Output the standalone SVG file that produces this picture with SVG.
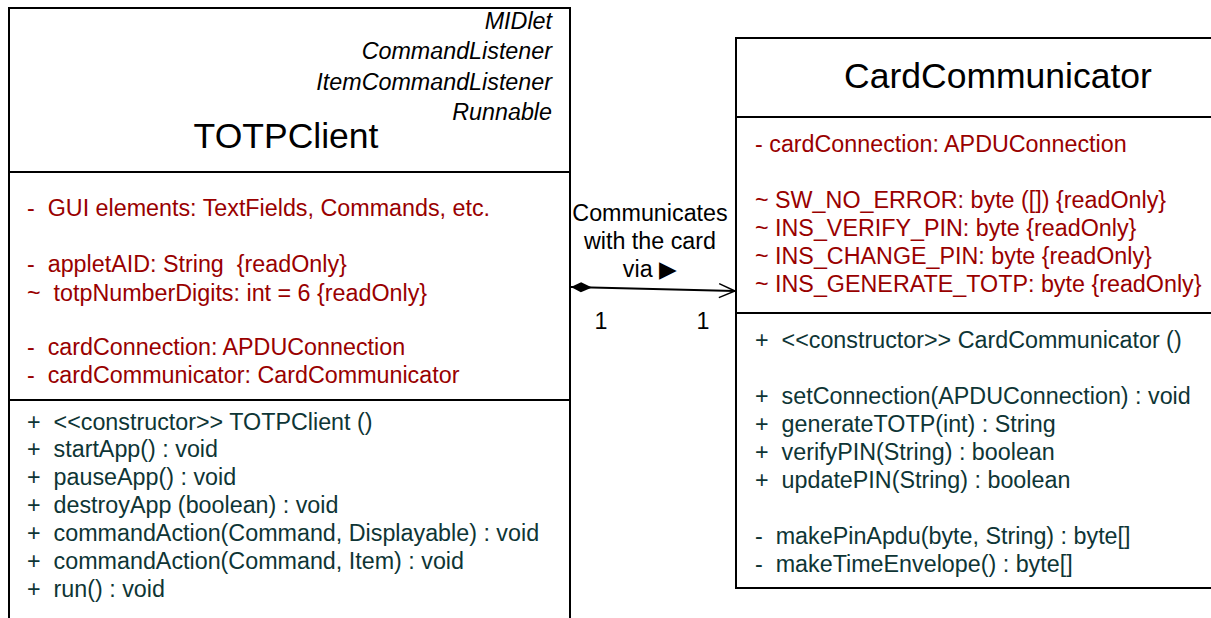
<svg xmlns="http://www.w3.org/2000/svg" width="1211" height="618" viewBox="0 0 1211 618">
<defs>
<style>
text{font-family:"Liberation Sans",Arial,sans-serif;font-size:23.3px;white-space:pre}
.box{fill:#fff;stroke:#000;stroke-width:2}
.div{stroke:#000;stroke-width:2}
.it{font-style:italic;text-anchor:end;fill:#000}
.title{font-size:35.5px;text-anchor:middle;fill:#000}
.attr{fill:#990000}
.op{fill:#0e3535}
.lbl{fill:#000;text-anchor:middle}
</style>
<marker id="open" viewBox="0 0 20 20" refX="18" refY="10" markerWidth="20" markerHeight="20" markerUnits="userSpaceOnUse" orient="auto">
<path d="M2,3 L18,10 L2,17" fill="none" stroke="#000" stroke-width="1.5"/>
</marker>
<marker id="diamond" viewBox="0 0 24 12" refX="1" refY="6" markerWidth="24" markerHeight="12" markerUnits="userSpaceOnUse" orient="auto">
<path d="M1,6 L11,1 L22,6 L11,11 Z" fill="#000"/>
</marker>
</defs>
<g id="TOTPClient">
<rect class="box" x="9" y="8" width="561" height="620"/>
<line class="div" x1="9" y1="172" x2="570" y2="172"/>
<line class="div" x1="9" y1="400" x2="570" y2="400"/>
<text class="it" x="552" y="29">MIDlet</text>
<text class="it" x="552" y="59">CommandListener</text>
<text class="it" x="552" y="90">ItemCommandListener</text>
<text class="it" x="552" y="120">Runnable</text>
<text class="title" x="286" y="148">TOTPClient</text>
<text class="attr" x="27" y="216" xml:space="preserve">-  GUI elements: TextFields, Commands, etc.</text>
<text class="attr" x="27" y="272" xml:space="preserve">-  appletAID: String  {readOnly}</text>
<text class="attr" x="27" y="301" xml:space="preserve">~  totpNumberDigits: int = 6 {readOnly}</text>
<text class="attr" x="27" y="355" xml:space="preserve">-  cardConnection: APDUConnection</text>
<text class="attr" x="27" y="383" xml:space="preserve">-  cardCommunicator: CardCommunicator</text>
<text class="op" x="27" y="430" xml:space="preserve">+  &lt;&lt;constructor&gt;&gt; TOTPClient ()</text>
<text class="op" x="27" y="457" xml:space="preserve">+  startApp() : void</text>
<text class="op" x="27" y="485" xml:space="preserve">+  pauseApp() : void</text>
<text class="op" x="27" y="513" xml:space="preserve">+  destroyApp (boolean) : void</text>
<text class="op" x="27" y="541" xml:space="preserve">+  commandAction(Command, Displayable) : void</text>
<text class="op" x="27" y="569" xml:space="preserve">+  commandAction(Command, Item) : void</text>
<text class="op" x="27" y="597" xml:space="preserve">+  run() : void</text>
</g>
<g id="CardCommunicator">
<rect class="box" x="736" y="38" width="485" height="550"/>
<line class="div" x1="736" y1="117" x2="1221" y2="117"/>
<line class="div" x1="736" y1="313" x2="1221" y2="313"/>
<text class="title" x="998" y="88">CardCommunicator</text>
<text class="attr" x="755" y="152">- cardConnection: APDUConnection</text>
<text class="attr" x="755" y="208">~ SW_NO_ERROR: byte ([]) {readOnly}</text>
<text class="attr" x="755" y="236">~ INS_VERIFY_PIN: byte {readOnly}</text>
<text class="attr" x="755" y="264">~ INS_CHANGE_PIN: byte {readOnly}</text>
<text class="attr" x="755" y="292">~ INS_GENERATE_TOTP: byte {readOnly}</text>
<text class="op" x="755" y="348" xml:space="preserve">+  &lt;&lt;constructor&gt;&gt; CardCommunicator ()</text>
<text class="op" x="755" y="404" xml:space="preserve">+  setConnection(APDUConnection) : void</text>
<text class="op" x="755" y="432" xml:space="preserve">+  generateTOTP(int) : String</text>
<text class="op" x="755" y="460" xml:space="preserve">+  verifyPIN(String) : boolean</text>
<text class="op" x="755" y="488" xml:space="preserve">+  updatePIN(String) : boolean</text>
<text class="op" x="755" y="544" xml:space="preserve">-  makePinApdu(byte, String) : byte[]</text>
<text class="op" x="755" y="572" xml:space="preserve">-  makeTimeEnvelope() : byte[]</text>
</g>
<g id="connectors">
<line x1="571" y1="287" x2="735" y2="291" stroke="#000" stroke-width="2" marker-start="url(#diamond)" marker-end="url(#open)"/>
<text class="lbl" x="650" y="221">Communicates</text>
<text class="lbl" x="650" y="249">with the card</text>
<text class="lbl" x="650" y="277">via ▶</text>
<text class="lbl" x="601" y="329">1</text>
<text class="lbl" x="703" y="329">1</text>
</g>
</svg>
